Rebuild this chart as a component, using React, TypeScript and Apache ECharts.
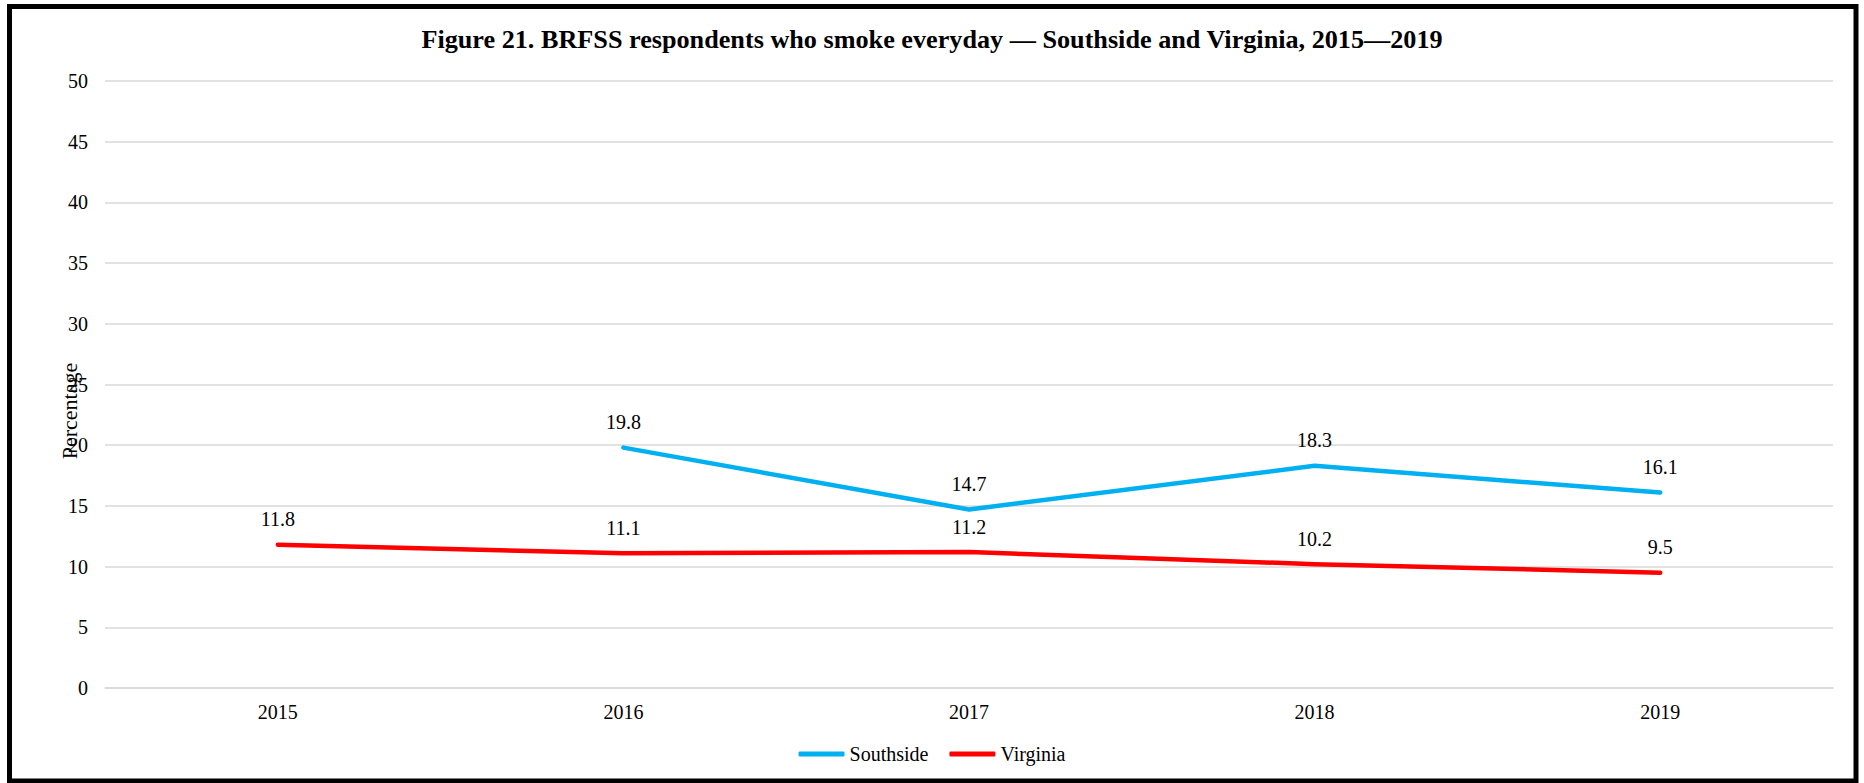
import React, { useEffect, useRef } from "react";
import * as echarts from "echarts";

const years = ["2015", "2016", "2017", "2018", "2019"];
const southside: (number | null)[] = [null, 19.8, 14.7, 18.3, 16.1];
const virginia: number[] = [11.8, 11.1, 11.2, 10.2, 9.5];
const titleText =
  "Figure 21. BRFSS respondents who smoke everyday \u2014 Southside and Virginia, 2015\u20142019";
const yAxisName = "Percentage";

const FONT = "'Times New Roman', 'Liberation Serif', serif";

export default function App() {
  const ref = useRef<HTMLDivElement>(null);
  useEffect(() => {
    if (!ref.current) return;
    const chart = echarts.init(ref.current, null, { renderer: "svg" });
    const labelCfg = {
      show: true,
      position: "top",
      distance: 15,
      color: "#000",
      fontFamily: FONT,
      fontSize: 20,
    };
    chart.setOption({
      animation: false,
      backgroundColor: "#fff",
      title: {
        text: titleText,
        left: "center",
        top: 21,
        textStyle: { fontFamily: FONT, fontSize: 26.2, fontWeight: "bold", color: "#000" },
      },
      grid: { left: 105, right: 31, top: 81, bottom: 95, containLabel: false },
      legend: {
        top: 739,
        left: "center",
        icon: "roundRect",
        itemWidth: 46,
        itemHeight: 5,
        itemGap: 21,
        textStyle: { fontFamily: FONT, fontSize: 20, color: "#000" },
        data: ["Southside", "Virginia"],
      },
      xAxis: {
        type: "category",
        data: years,
        boundaryGap: true,
        axisLine: { show: true, lineStyle: { color: "#d9d9d9", width: 1.5 } },
        axisTick: { show: false },
        axisLabel: { margin: 14, color: "#000", fontFamily: FONT, fontSize: 20 },
      },
      yAxis: {
        type: "value",
        min: 0,
        max: 50,
        interval: 5,
        axisLine: { show: false },
        axisTick: { show: false },
        splitLine: { lineStyle: { color: "#d9d9d9", width: 1.5 } },
        axisLabel: { margin: 17, color: "#000", fontFamily: FONT, fontSize: 20 },
      },
      graphic: [
        {
          type: "rect",
          shape: { x: 9.5, y: 6.5, width: 1846.5, height: 774.5 },
          style: { fill: "none", stroke: "#000", lineWidth: 5 },
          z: 100,
        },
        {
          type: "text",
          x: 69,
          y: 411,
          rotation: Math.PI / 2,
          style: {
            text: yAxisName,
            fontFamily: FONT,
            fontSize: 22,
            fill: "#000",
            textAlign: "center",
            textVerticalAlign: "middle",
          },
        },
      ],
      series: [
        {
          name: "Southside",
          type: "line",
          data: southside,
          symbol: "circle",
          symbolSize: 1,
          showSymbol: true,
          connectNulls: false,
          lineStyle: { color: "#00B0F0", width: 4.5, cap: "round", join: "round" },
          itemStyle: { color: "#00B0F0" },
          label: labelCfg,
        },
        {
          name: "Virginia",
          type: "line",
          data: virginia,
          symbol: "circle",
          symbolSize: 1,
          showSymbol: true,
          lineStyle: { color: "#FF0000", width: 4.5, cap: "round", join: "round" },
          itemStyle: { color: "#FF0000" },
          label: labelCfg,
        },
      ],
    });
    return () => chart.dispose();
  }, []);
  return (
    <div
      ref={ref}
      style={{ position: "absolute", left: 0, top: 0, width: 1864, height: 783 }}
    />
  );
}
